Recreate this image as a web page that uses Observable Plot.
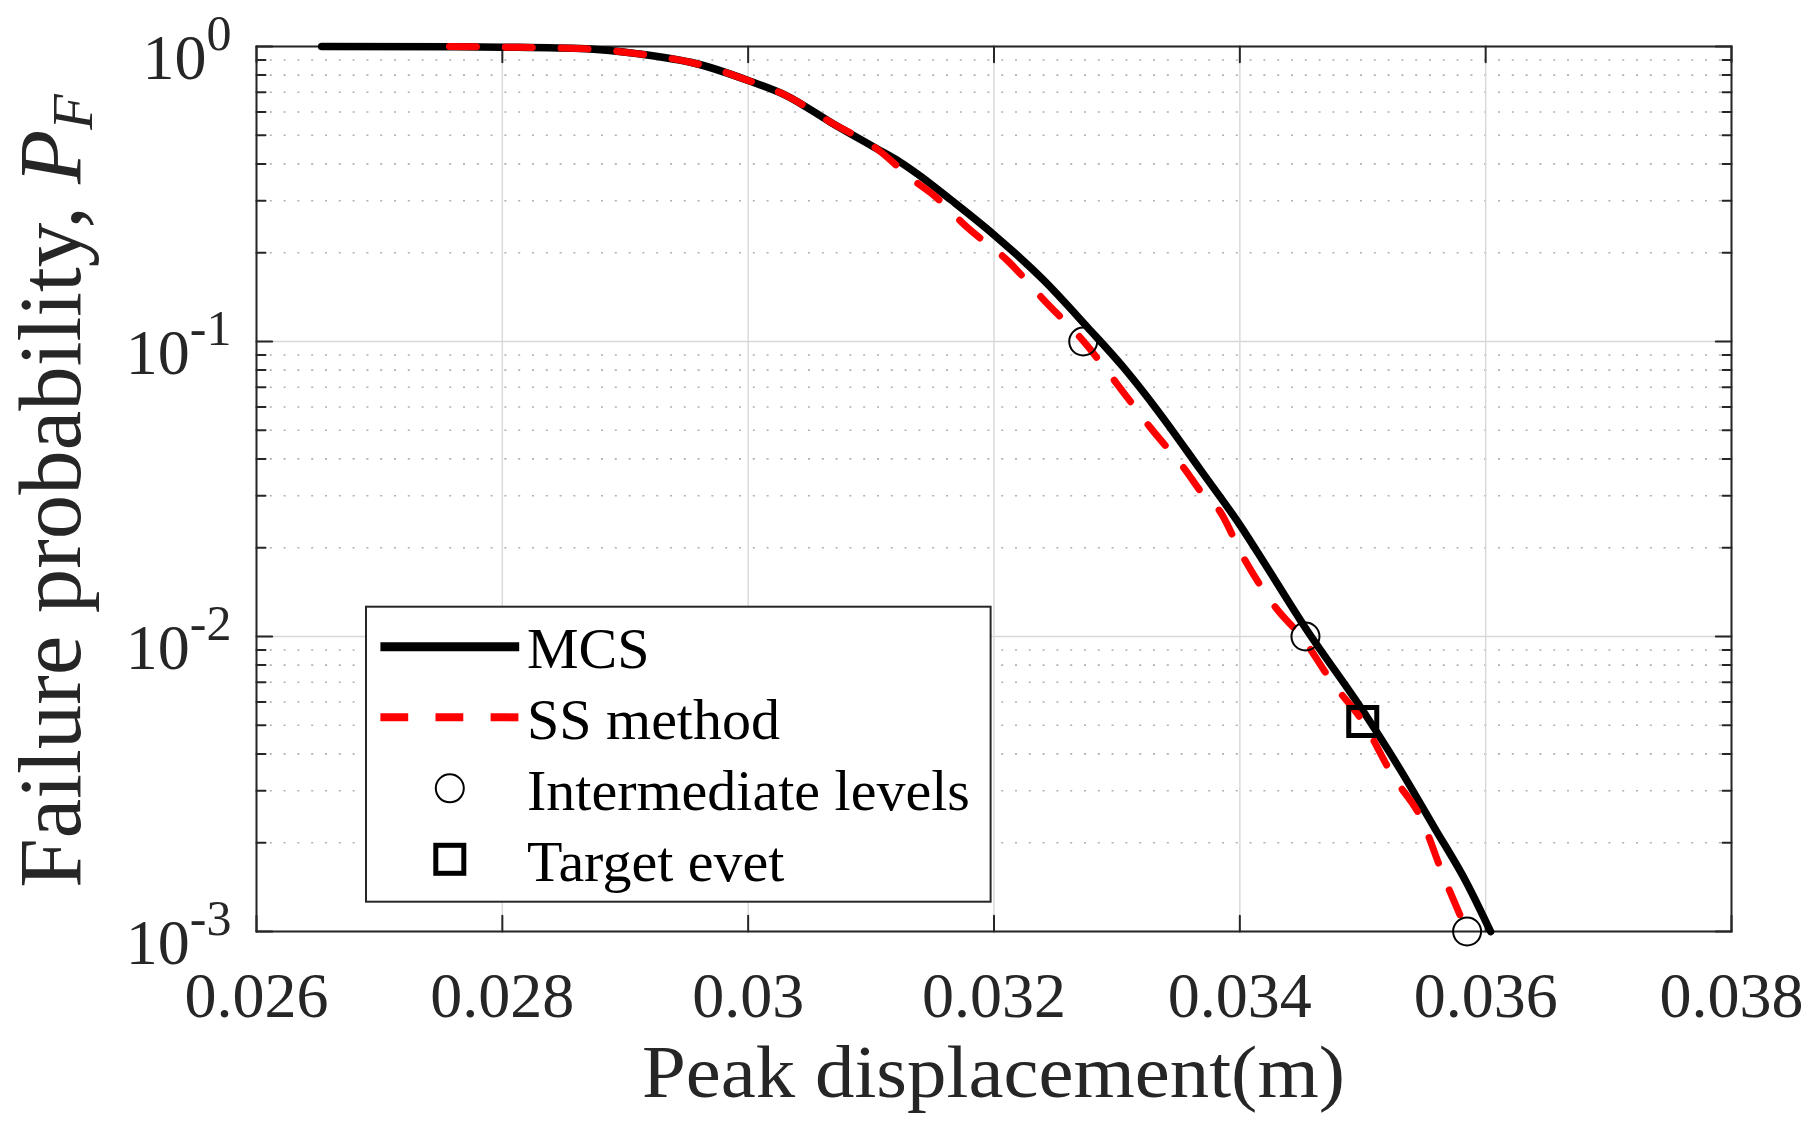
<!DOCTYPE html>
<html><head><meta charset="utf-8">
<script src="https://cdn.jsdelivr.net/npm/d3@7"></script>
<script src="https://cdn.jsdelivr.net/npm/@observablehq/plot@0.6"></script>
<style>html,body{margin:0;padding:0;background:#fff;} svg{display:block;}</style>
</head><body><div id="chart"></div>
<script>
// ---- data ----
const mcsX = [0.02653, 0.02760, 0.02800, 0.02868, 0.02911, 0.02958, 0.03000, 0.03031, 0.03067, 0.03104, 0.03124, 0.03140, 0.03165, 0.03200, 0.03240, 0.03276, 0.03305, 0.03333, 0.03368, 0.03400, 0.03422, 0.03453, 0.03500, 0.03531, 0.03558, 0.03585, 0.03604];
const mcsP = [1.000, 0.999, 0.995, 0.982, 0.944, 0.874, 0.767, 0.682, 0.554, 0.452, 0.405, 0.364, 0.302, 0.230, 0.162, 0.1118, 0.082, 0.0584, 0.0367, 0.0239, 0.0172, 0.01075, 0.00561, 0.00351, 0.00226, 0.00145, 0.00100];
const ssX = [0.02757, 0.02800, 0.02868, 0.02911, 0.02958, 0.03000, 0.03031, 0.03067, 0.03104, 0.03135, 0.03151, 0.03178, 0.03211, 0.03241, 0.03273, 0.03300, 0.03327, 0.03354, 0.03372, 0.03382, 0.03403, 0.03430, 0.03450, 0.03476, 0.03500, 0.03525, 0.03547, 0.03566, 0.03585];
const ssP = [1.000, 0.995, 0.982, 0.944, 0.874, 0.767, 0.682, 0.554, 0.452, 0.351, 0.313, 0.244, 0.188, 0.1377, 0.100, 0.0719, 0.0512, 0.0375, 0.0297, 0.0272, 0.0185, 0.0124, 0.0100, 0.00691, 0.00515, 0.00334, 0.00244, 0.00153, 0.00100];
const levelX = [0.032726, 0.034534, 0.035849];
const levelP = [0.1, 0.01, 0.001];
const targetX = [0.0350];
const targetP = [0.00515];

const xTicks = [0.026, 0.028, 0.030, 0.032, 0.034, 0.036, 0.038];
const xTickLabels = ["0.026", "0.028", "0.03", "0.032", "0.034", "0.036", "0.038"];
const yMajor = [0.001, 0.01, 0.1, 1];
const yTickLabels = ["10^-3", "10^-2", "10^-1", "10^0"];
const yMinor = [0.002, 0.003, 0.004, 0.005, 0.006, 0.007, 0.008, 0.009,
                0.02, 0.03, 0.04, 0.05, 0.06, 0.07, 0.08, 0.09,
                0.2, 0.3, 0.4, 0.5, 0.6, 0.7, 0.8, 0.9];
const legendLabels = ["MCS", "SS method", "Intermediate levels", "Target evet"];
const xLabel = "Peak displacement(m)";
const yLabelText = "Failure probability, ";
const yLabelSym = "P";
const yLabelSub = "F";

// ---- tables ----
const mcs = mcsX.map((x, i) => ({x, p: mcsP[i]}));
const ss = ssX.map((x, i) => ({x, p: ssP[i]}));
const levels = levelX.map((x, i) => ({x, p: levelP[i]}));
const target = targetX.map((x, i) => ({x, p: targetP[i]}));
const xFmt = new Map(xTicks.map((d, i) => [d, xTickLabels[i]]));
const yFmt = new Map(yMajor.map((d, i) => [d, yTickLabels[i]]));

const W = 1810, H = 1134;
const mL = 256, mR = 79, mT = 46, mB = 203;
const xDom = [0.026, 0.038], yDom = [0.001, 1];
const axisColor = "#262626";
const FONT = "'Liberation Serif', 'Times New Roman', Times, serif";

const tick = (data, x, y, rotate, length) =>
  Plot.vector(data, {x, y, rotate, length, anchor: "start", r: 0, stroke: axisColor, strokeWidth: 2});

const chart = Plot.plot({
  width: W, height: H,
  marginLeft: mL, marginRight: mR, marginTop: mT, marginBottom: mB,
  x: {domain: xDom},
  y: {type: "log", domain: yDom},
  style: {fontFamily: FONT, color: axisColor, background: "white", overflow: "visible"},
  marks: [
    Plot.ruleY(yMinor, {stroke: "#b0b0b0", strokeWidth: 1.6, strokeDasharray: "2,11.8"}),
    Plot.ruleX(xTicks, {stroke: "#d8d8d8", strokeWidth: 1.4}),
    Plot.ruleY(yMajor, {stroke: "#d8d8d8", strokeWidth: 1.4}),
    // inward ticks
    tick(xTicks, d => d, () => yDom[0], 0, 15.7),
    tick(xTicks, d => d, () => yDom[1], 180, 15.7),
    tick(yMajor, () => xDom[0], d => d, 90, 15.7),
    tick(yMajor, () => xDom[1], d => d, -90, 15.7),
    tick(yMinor, () => xDom[0], d => d, 90, 9),
    tick(yMinor, () => xDom[1], d => d, -90, 9),
    Plot.frame({stroke: axisColor, strokeWidth: 2}),
    Plot.axisX(xTicks, {tickSize: 0, tickPadding: 40, fontSize: 64, tickFormat: d => xFmt.get(d), label: null}),
    Plot.axisY(yMajor, {tickSize: 0, tickPadding: 25, fontSize: 64, tickFormat: d => yFmt.get(d), label: null}),
    Plot.line(mcs, {x: "x", y: "p", stroke: "black", strokeWidth: 7.5, curve: "monotone-x"}),
    Plot.line(ss, {x: "x", y: "p", stroke: "#ff0000", strokeWidth: 7, strokeDasharray: "27,28.8", curve: "monotone-x"}),
    Plot.dot(levels, {x: "x", y: "p", r: 14, stroke: "black", strokeWidth: 2, fill: "none"}),
    Plot.dot(target, {x: "x", y: "p", symbol: "square", r: 15.8, stroke: "black", strokeWidth: 5, fill: "none"})
  ]
});

document.getElementById("chart").appendChild(chart);
const svg = d3.select(chart);

// superscript y tick labels
svg.selectAll('g[aria-label="y-axis tick label"] text').each(function() {
  const s = this.textContent;
  const [base, exp] = s.split("^");
  const t = d3.select(this);
  t.text(null).attr("y", 32);
  t.append("tspan").text(base);
  t.append("tspan").attr("dy", -29).attr("font-size", 50).text(exp);
});

// axis titles
svg.append("text")
  .attr("x", (mL + W - mR) / 2).attr("y", 1096.7)
  .attr("text-anchor", "middle")
  .attr("font-family", FONT).attr("font-size", 74)
  .attr("textLength", 703).attr("lengthAdjust", "spacingAndGlyphs")
  .attr("fill", axisColor)
  .text(xLabel);

const yl = svg.append("text")
  .attr("transform", "translate(80,491) rotate(-90)")
  .attr("text-anchor", "middle")
  .attr("font-family", FONT).attr("font-size", 89)
  .attr("fill", axisColor);
yl.append("tspan").text(yLabelText);
yl.append("tspan").attr("font-style", "italic").text(yLabelSym);
yl.append("tspan").attr("font-style", "italic").attr("font-size", 58).attr("dy", 12).text(yLabelSub);

// legend
const lg = svg.append("g").attr("font-family", FONT).attr("text-anchor", "start");
lg.append("rect").attr("x", 366).attr("y", 606.7).attr("width", 624.6).attr("height", 295)
  .attr("fill", "white").attr("stroke", axisColor).attr("stroke-width", 2);
const rowY = [646.7, 717.3, 788.3, 859.3];
lg.append("line").attr("x1", 380.4).attr("x2", 519.2).attr("y1", rowY[0]).attr("y2", rowY[0])
  .attr("stroke", "black").attr("stroke-width", 9);
lg.append("line").attr("x1", 380.4).attr("x2", 519.2).attr("y1", rowY[1]).attr("y2", rowY[1])
  .attr("stroke", "#ff0000").attr("stroke-width", 8).attr("stroke-dasharray", "27.8,27.3");
lg.append("circle").attr("cx", 449.8).attr("cy", rowY[2]).attr("r", 14)
  .attr("fill", "none").attr("stroke", "black").attr("stroke-width", 2);
lg.append("rect").attr("x", 449.8 - 14).attr("y", rowY[3] - 14).attr("width", 28).attr("height", 28)
  .attr("fill", "none").attr("stroke", "black").attr("stroke-width", 5);
legendLabels.forEach((s, i) => {
  lg.append("text").attr("x", 527).attr("y", rowY[i] + 21.6)
    .attr("text-anchor", "start")
    .attr("font-size", 58).attr("fill", "black").text(s);
});
</script>
</body></html>
